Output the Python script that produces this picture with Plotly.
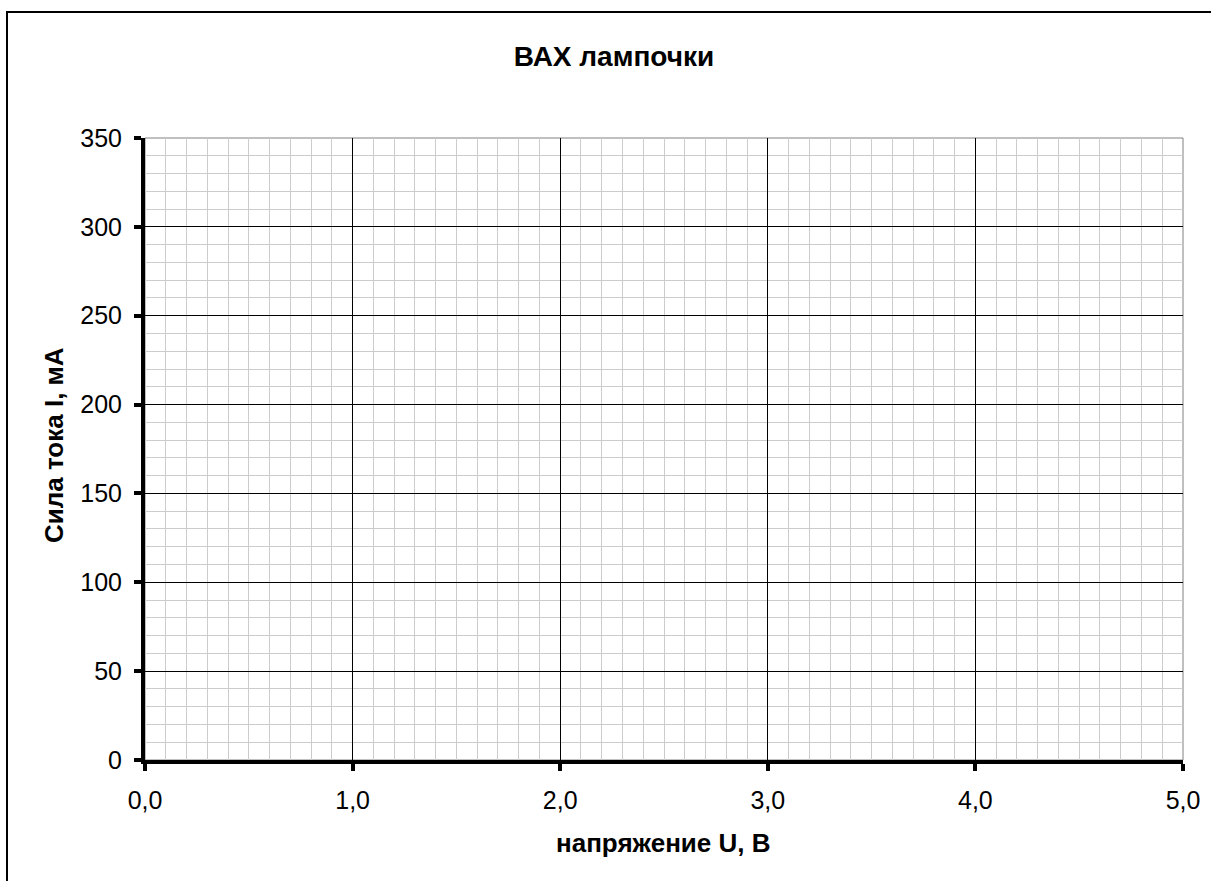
import plotly.graph_objects as go

# Data (the reference chart is an empty grid: no measured points)
voltage_U = []
current_I = []
x_ticks = [0, 1, 2, 3, 4, 5]
y_ticks = [0, 50, 100, 150, 200, 250, 300, 350]

FONT = "Liberation Sans, Arial, sans-serif"
L, R, T, B = 145, 28, 138, 121
W, H = 1211, 881
PW, PH = W - L - R, H - T - B


def px_x(px):
    return (px - L) / PW


def px_y(py):
    return (H - B - py) / PH


fig = go.Figure()
fig.add_trace(go.Scatter(x=voltage_U, y=current_I, mode="lines+markers",
                         line=dict(color="black"), showlegend=False))

fig.update_layout(
    width=W, height=H,
    margin=dict(l=L, r=R, t=T, b=B),
    paper_bgcolor="white", plot_bgcolor="white",
    separators=", ",
    font=dict(family=FONT, size=25, color="black"),
    title=dict(text="<b>ВАХ лампочки</b>", x=614 / W, xref="container", xanchor="center",
               y=1 - 56 / H, yref="container", yanchor="middle",
               font=dict(family=FONT, size=28, color="black")),
    showlegend=False,
)

fig.update_xaxes(
    range=[0, 5], tickvals=x_ticks, tickformat=".1f",
    showgrid=True, gridcolor="black", gridwidth=1,
    minor=dict(dtick=0.1, showgrid=True, gridcolor="#cccccc", gridwidth=1, ticks=""),
    showline=True, linecolor="black", linewidth=4,
    ticks="outside", ticklen=7, tickwidth=4, tickcolor="black",
    zeroline=False,
    ticklabelstandoff=8,
)
fig.update_yaxes(
    range=[0, 350], tickvals=y_ticks,
    showgrid=True, gridcolor="black", gridwidth=1,
    minor=dict(dtick=10, showgrid=True, gridcolor="#cccccc", gridwidth=1, ticks=""),
    showline=True, linecolor="black", linewidth=4,
    ticks="outside", ticklen=7, tickwidth=4, tickcolor="black",
    zeroline=False,
    ticklabelstandoff=7,
)

# axis titles
fig.add_annotation(text="<b>напряжение U, В</b>", xref="paper", yref="paper",
                   x=px_x(663), y=px_y(843), xanchor="center", yanchor="middle",
                   showarrow=False, font=dict(family=FONT, size=26, color="black"))
fig.add_annotation(text="<b>Сила тока I, мА</b>", xref="paper", yref="paper",
                   x=px_x(54), y=px_y(445), xanchor="center", yanchor="middle",
                   textangle=-90, showarrow=False,
                   font=dict(family=FONT, size=26, color="black"))

# plot area frame (gray) and outer chart border
fig.add_shape(type="rect", xref="x domain", yref="y domain", x0=0, x1=1, y0=0, y1=1,
              line=dict(color="#808080", width=1), layer="below")
fig.add_shape(type="rect", xref="paper", yref="paper",
              x0=px_x(7), x1=1.2, y0=-0.4, y1=px_y(12),
              line=dict(color="black", width=2), layer="below")

fig.write_html("out.html", config={"displayModeBar": False},
               post_script="document.body.style.margin='0';document.body.style.overflow='hidden';")
